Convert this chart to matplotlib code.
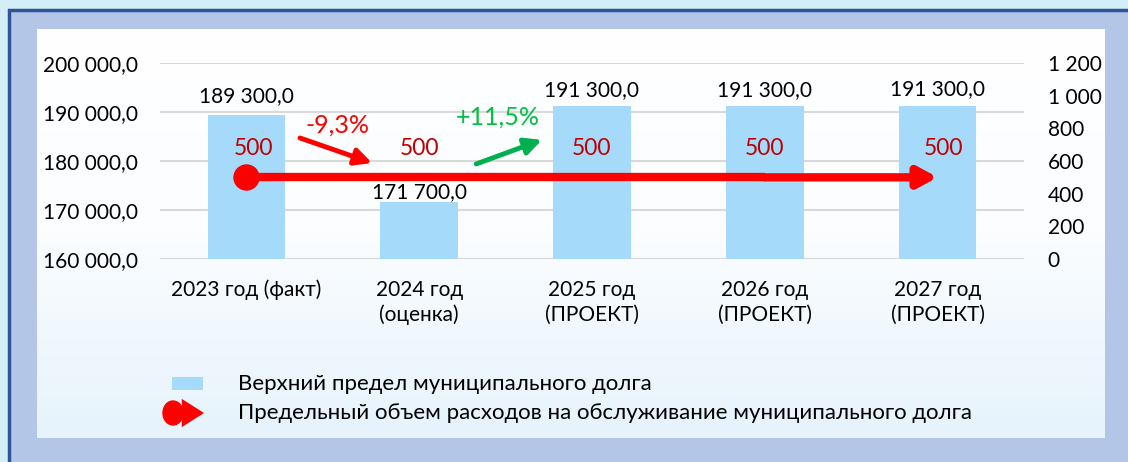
import numpy as np
import matplotlib
matplotlib.use("Agg")
import matplotlib.pyplot as plt
from matplotlib.patches import Rectangle, Ellipse, FancyArrowPatch
from matplotlib.ticker import FuncFormatter

plt.rcParams["font.family"] = ["Lato", "DejaVu Sans"]

# data
categories = ["2023 год (факт)", "2024 год\n(оценка)", "2025 год\n(ПРОЕКТ)",
              "2026 год\n(ПРОЕКТ)", "2027 год\n(ПРОЕКТ)"]
debt_limit = [189300.0, 171700.0, 191300.0, 191300.0, 191300.0]
service_limit = [500, 500, 500, 500, 500]
change_labels = ["-9,3%", "+11,5%"]

W, H = 1128, 462
fig = plt.figure(figsize=(W / 100, H / 100), dpi=100)
fig.patch.set_facecolor("#D3EEF6")


def fx(px):
    return px / W


def fy(py):
    return 1 - py / H


def fmt_money(v):
    return f"{v:,.1f}".replace(",", " ").replace(".", ",")


# frame and panel
fig.add_artist(Rectangle((fx(9), -0.2), 1.2, fy(10) + 0.2, transform=fig.transFigure,
                         facecolor="#B4C6E7", edgecolor="#2F5597", lw=2.5, zorder=0))
bg = fig.add_axes([fx(37), fy(438), fx(1105 - 37), (438 - 29) / H], zorder=0)
grad = np.linspace(0, 1, 256).reshape(-1, 1)
bg.imshow(grad, aspect="auto", extent=[0, 1, 0, 1], origin="upper",
          cmap=matplotlib.colors.LinearSegmentedColormap.from_list(
              "p", ["#FFFFFF", "#FBFDFF", "#E6F3FC"]))
bg.axis("off")

ax = fig.add_axes([fx(160), fy(259), fx(1024 - 160), (259 - 63) / H], zorder=2)
ax.patch.set_alpha(0)
x = np.arange(len(categories))

ax.bar(x, debt_limit, width=0.45, color="#A6DAFB", zorder=2)
ax.set_xlim(-0.5, len(categories) - 0.5)
ax.set_ylim(160000, 200000)
ax.set_yticks(np.arange(160000, 200001, 10000))
ax.yaxis.set_major_formatter(FuncFormatter(lambda v, p: fmt_money(v)))
ax.grid(axis="y", color="#D9D9D9", lw=1.5, zorder=0)
ax.set_axisbelow(True)
for s in ax.spines.values():
    s.set_visible(False)
ax.tick_params(axis="y", length=0, pad=16, labelsize=15)
ax.set_xticks(x)
ax.set_xticklabels(categories, fontsize=15, linespacing=1.3)
ax.tick_params(axis="x", length=0, pad=15)

label_off = [7, 0, 4, 4, 5]
for xi, v, off in zip(x, debt_limit, label_off):
    ax.annotate(fmt_money(v), (xi, v), xytext=(0, off), textcoords="offset points",
                ha="center", va="bottom", fontsize=15, color="black", zorder=5)

ax2 = ax.twinx()
ax2.set_ylim(0, 1200)
ax2.set_yticks(np.arange(0, 1201, 200))
ax2.yaxis.set_major_formatter(FuncFormatter(lambda v, p: f"{v:,.0f}".replace(",", " ")))
ax2.tick_params(axis="y", length=0, pad=17, labelsize=15)
for s in ax2.spines.values():
    s.set_visible(False)

red = "#FF0000"
ax2.plot(x[:-1], service_limit[:-1], color=red, lw=6, solid_capstyle="butt", zorder=4)
ax2.plot(x[0], service_limit[0], "o", color=red, ms=18, zorder=5)
ax2.annotate("", xy=(x[-1], service_limit[-1]), xytext=(x[-2], service_limit[-2]),
             arrowprops=dict(arrowstyle="-|>,head_length=1.1,head_width=0.6", color=red,
                             lw=6, shrinkA=0, shrinkB=0), zorder=5)
lab_dx = [5, 0, 0, 0, 4]
for xi, v, dx in zip(x, service_limit, lab_dx):
    ax2.annotate(f"{v}", (xi, v), xytext=(dx, 13), textcoords="offset points",
                 ha="center", va="bottom", fontsize=16.5, color="#C00000", zorder=6)

# change arrows
ax.annotate("", xy=(0.727, 179600), xytext=(0.31, 184700),
            arrowprops=dict(arrowstyle="-|>,head_length=1.0,head_width=0.5", color=red,
                            lw=3.5, shrinkA=0, shrinkB=0), zorder=6)
ax.text(0.53, 187350, change_labels[0], color=red, fontsize=18, ha="center", va="center", zorder=6)
green = "#00B050"
ax.annotate("", xy=(1.71, 184300), xytext=(1.33, 179400),
            arrowprops=dict(arrowstyle="-|>,head_length=1.0,head_width=0.5", color=green,
                            lw=3.5, shrinkA=0, shrinkB=0), zorder=6)
ax.text(1.456, 189000, change_labels[1], color="#00C040", fontsize=18, ha="center", va="center",
        zorder=6)

# legend
fig.add_artist(Rectangle((fx(172), fy(390)), fx(31), 13 / H, transform=fig.transFigure,
                         facecolor="#A6DAFB", edgecolor="none", zorder=3))
fig.text(fx(238), fy(384), "Верхний предел муниципального долга", fontsize=16,
         va="center", ha="left", zorder=3)
fig.add_artist(FancyArrowPatch((fx(175), fy(413)), (fx(204), fy(413)), transform=fig.transFigure,
                               arrowstyle="-|>,head_length=11,head_width=7", color=red, lw=3.5,
                               shrinkA=0, shrinkB=0, capstyle="butt", joinstyle="miter",
                               zorder=3))
fig.add_artist(Ellipse((fx(173), fy(413)), 20 / W, 24 / H, transform=fig.transFigure,
                       color=red, zorder=4))
fig.text(fx(238), fy(413), "Предельный объем расходов на обслуживание муниципального долга",
         fontsize=16, va="center", ha="left", zorder=3)

fig.savefig("out.png", dpi=100, facecolor=fig.get_facecolor())
